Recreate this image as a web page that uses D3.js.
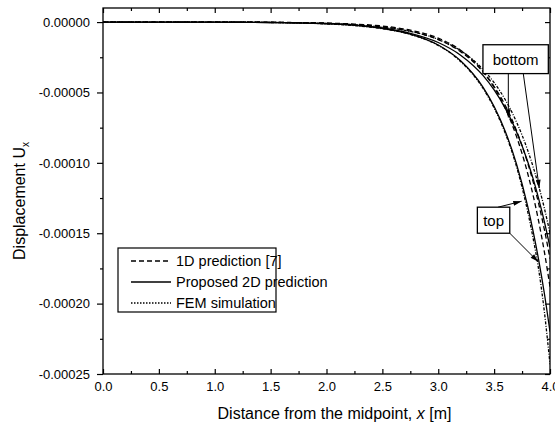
<!DOCTYPE html>
<html>
<head>
<meta charset="utf-8">
<script src="https://cdn.jsdelivr.net/npm/d3@7"></script>
<style>
  body { margin: 0; background: #fff; }
  text { font-family: "Liberation Sans", Arial, sans-serif; fill: #000; }
</style>
</head>
<body>
<div class="chart"></div>
<script>
// data (x in m, displacement in m)
const xVals = [0, 0.5, 1.0, 1.5, 2.0, 2.25, 2.5, 2.75, 3.0, 3.2, 3.4, 3.5, 3.6, 3.7, 3.8, 3.85, 3.9, 3.95, 4.0];

const top2D     = [0, 0, 0, -0.03e-5, -0.12e-5, -0.23e-5, -0.45e-5, -0.85e-5, -1.63e-5, -2.75e-5, -4.62e-5, -6.0e-5, -7.77e-5, -10.08e-5, -13.08e-5, -14.9e-5, -16.96e-5, -19.3e-5, -22.0e-5];
const topFEM    = [0, 0, 0, -0.02e-5, -0.13e-5, -0.25e-5, -0.47e-5, -0.88e-5, -1.66e-5, -2.8e-5, -4.7e-5, -6.1e-5, -7.9e-5, -10.25e-5, -13.45e-5, -15.4e-5, -17.65e-5, -20.6e-5, -24.3e-5];
const top1D     = [0, 0, 0, -0.02e-5, -0.07e-5, -0.14e-5, -0.28e-5, -0.57e-5, -1.14e-5, -2.0e-5, -3.5e-5, -4.64e-5, -6.13e-5, -8.12e-5, -10.74e-5, -12.35e-5, -14.21e-5, -16.34e-5, -18.8e-5];
const bottom2D  = [0, 0, 0, -0.03e-5, -0.10e-5, -0.20e-5, -0.42e-5, -0.80e-5, -1.45e-5, -2.35e-5, -3.79e-5, -4.82e-5, -6.13e-5, -7.79e-5, -9.9e-5, -11.16e-5, -12.59e-5, -14.19e-5, -16.0e-5];
const bottom1D  = [0, 0, 0, -0.02e-5, -0.09e-5, -0.18e-5, -0.34e-5, -0.65e-5, -1.25e-5, -2.1e-5, -3.53e-5, -4.58e-5, -5.93e-5, -7.7e-5, -10.0e-5, -11.37e-5, -12.95e-5, -14.75e-5, -16.8e-5];
const bottomFEM = [0, 0, 0, -0.03e-5, -0.10e-5, -0.19e-5, -0.35e-5, -0.66e-5, -1.23e-5, -2.03e-5, -3.35e-5, -4.3e-5, -5.52e-5, -7.09e-5, -9.1e-5, -10.31e-5, -11.68e-5, -13.24e-5, -15.0e-5];

const xTicks = [0, 0.5, 1.0, 1.5, 2.0, 2.5, 3.0, 3.5, 4.0];
const yTicks = [0, -0.00005, -0.0001, -0.00015, -0.0002, -0.00025];
const legendLabels = ["1D prediction [7]", "Proposed 2D prediction", "FEM simulation"];

// annotation boxes and arrows, in data units
const boxes = [
  {text: "bottom", x0: 3.40, x1: 3.985, y0: -1.61e-5, y1: -3.66e-5},
  {text: "top",    x0: 3.35, x1: 3.64,  y0: -1.315e-4, y1: -1.50e-4}
];
const arrows = [
  {x1: 3.627, y1: -3.66e-5, x2: 3.627, y2: -6.78e-5},
  {x1: 3.761, y1: -3.66e-5, x2: 3.904, y2: -1.18e-4},
  {x1: 3.535, y1: -1.315e-4, x2: 3.746, y2: -1.273e-4},
  {x1: 3.64,  y1: -1.50e-4, x2: 3.895, y2: -1.703e-4}
];

//CHART INIT
let outerWidth = 555, outerHeight = 429;
let margin = {top: 8, right: 5, bottom: 55, left: 103};
let width = outerWidth - margin.left - margin.right;
let height = outerHeight - margin.top - margin.bottom;

let svg = d3.select('.chart').append('svg')
  .attr('width', outerWidth)
  .attr('height', outerHeight)
  .append('g')
  .attr('transform', `translate(${margin.left},${margin.top})`);

const xScale = d3.scaleLinear().domain([0, 4]).range([0, width]);
const yScale = d3.scaleLinear().domain([-0.00025, 0.00001]).range([height, 0]);

svg.append('defs').append('clipPath').attr('id', 'clip')
  .append('rect').attr('width', width).attr('height', height);

// series
const series = [
  {vals: top2D,     dash: null},
  {vals: topFEM,    dash: '3,1.5,1,1.5'},
  {vals: top1D,     dash: '5,3'},
  {vals: bottom2D,  dash: null},
  {vals: bottom1D,  dash: '5,3'},
  {vals: bottomFEM, dash: '3,1.5,1,1.5'}
];

const line = d3.line()
  .x((d, i) => xScale(xVals[i]))
  .y(d => yScale(d))
  .curve(d3.curveMonotoneX);

svg.append('g').attr('clip-path', 'url(#clip)')
  .selectAll('path')
  .data(series)
  .enter().append('path')
  .attr('d', d => line(d.vals))
  .attr('fill', 'none')
  .attr('stroke', '#000')
  .attr('stroke-width', 1.3)
  .attr('stroke-dasharray', d => d.dash);

// axes - left ticks out, the rest in
const fmt = d => d3.format('.5f')(d).replace('\u2212', '-');
const xMinor = d3.range(0, 4.001, 0.25).filter(v => Math.abs(v * 2 - Math.round(v * 2)) > 0.01);
const yMinor = d3.range(-0.00025, 0.000001, 0.000025).filter((v, i) => i % 2 == 1);

svg.append('g').attr('class', 'axis y-axis')
  .call(d3.axisLeft(yScale).tickValues(yTicks).tickFormat(fmt).tickSize(6).tickPadding(7));
svg.append('g').call(d3.axisLeft(yScale).tickValues(yMinor).tickFormat('').tickSize(3));

svg.append('g').attr('class', 'axis x-axis')
  .attr('transform', `translate(0,${height})`)
  .call(d3.axisBottom(xScale).tickValues(xTicks).tickFormat(d3.format('.1f')).tickSizeInner(-5).tickSizeOuter(0).tickPadding(8));
svg.append('g').attr('transform', `translate(0,${height})`)
  .call(d3.axisBottom(xScale).tickValues(xMinor).tickFormat('').tickSizeInner(-3).tickSizeOuter(0));

svg.append('g').call(d3.axisTop(xScale).tickValues(xTicks).tickFormat('').tickSizeInner(-5).tickSizeOuter(0));
svg.append('g').call(d3.axisTop(xScale).tickValues(xMinor).tickFormat('').tickSizeInner(-3).tickSizeOuter(0));
svg.append('g').attr('transform', `translate(${width},0)`)
  .call(d3.axisRight(yScale).tickValues(yTicks).tickFormat('').tickSizeInner(-5).tickSizeOuter(0));
svg.append('g').attr('transform', `translate(${width},0)`)
  .call(d3.axisRight(yScale).tickValues(yMinor).tickFormat('').tickSizeInner(-3).tickSizeOuter(0));

svg.selectAll('.domain').remove();
svg.selectAll('.tick line').attr('stroke', '#000').attr('stroke-width', 1.2);
svg.selectAll('.tick text').attr('font-size', 13).attr('font-family', '"Liberation Sans", Arial, sans-serif');

svg.append('rect')
  .attr('width', width).attr('height', height)
  .attr('fill', 'none').attr('stroke', '#000').attr('stroke-width', 1.3);

// axis titles
svg.append('text')
  .attr('x', width / 2 + 8).attr('y', height + 45)
  .attr('text-anchor', 'middle').attr('font-size', 16)
  .html('Distance from the midpoint, <tspan font-style="italic">x</tspan> [m]');

svg.append('text')
  .attr('transform', `translate(${-78},${(height) / 2 + 10}) rotate(-90)`)
  .attr('text-anchor', 'middle').attr('font-size', 16)
  .html('Displacement U<tspan font-size="10" dy="4">x</tspan>');

// legend
let legend = svg.append('g').attr('transform', 'translate(15,240)');
legend.append('rect')
  .attr('width', 158).attr('height', 64)
  .attr('fill', '#fff').attr('stroke', '#000').attr('stroke-width', 1.2);
const legendDash = ['5,3', null, '1.5,1.5'];
legendLabels.forEach((t, i) => {
  let yy = 13 + i * 21;
  legend.append('line')
    .attr('x1', 13).attr('x2', 53).attr('y1', yy).attr('y2', yy)
    .attr('stroke', '#000').attr('stroke-width', 1.3)
    .attr('stroke-dasharray', legendDash[i]);
  legend.append('text')
    .attr('x', 58).attr('y', yy + 5)
    .attr('font-size', 14.5).text(t);
});

// annotations
svg.select('defs').append('marker')
  .attr('id', 'arrow').attr('viewBox', '0 0 10 6')
  .attr('refX', 10).attr('refY', 3)
  .attr('markerWidth', 9).attr('markerHeight', 5)
  .attr('markerUnits', 'userSpaceOnUse').attr('orient', 'auto')
  .append('path').attr('d', 'M0,0 L10,3 L0,6 z').attr('fill', '#000');

svg.selectAll('.ann-line')
  .data(arrows)
  .enter().append('line')
  .attr('class', 'ann-line')
  .attr('x1', d => xScale(d.x1)).attr('y1', d => yScale(d.y1))
  .attr('x2', d => xScale(d.x2)).attr('y2', d => yScale(d.y2))
  .attr('stroke', '#000').attr('stroke-width', 1)
  .attr('marker-end', 'url(#arrow)');

boxes.forEach(b => {
  svg.append('rect')
    .attr('x', xScale(b.x0)).attr('y', yScale(b.y0))
    .attr('width', xScale(b.x1) - xScale(b.x0))
    .attr('height', yScale(b.y1) - yScale(b.y0))
    .attr('fill', '#fff').attr('stroke', '#000').attr('stroke-width', 1.3);
  svg.append('text')
    .attr('x', (xScale(b.x0) + xScale(b.x1)) / 2)
    .attr('y', (yScale(b.y0) + yScale(b.y1)) / 2 + 5.5)
    .attr('text-anchor', 'middle').attr('font-size', 15)
    .text(b.text);
});
</script>
</body>
</html>
